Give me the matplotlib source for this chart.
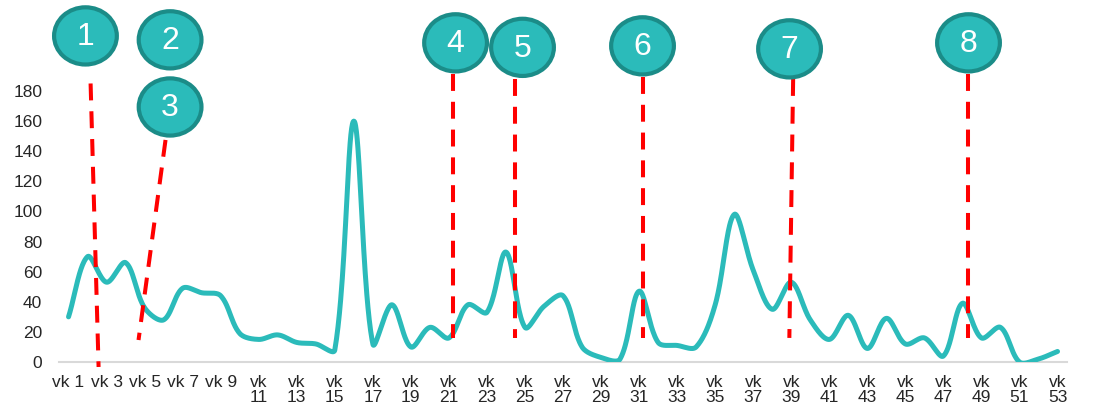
import numpy as np
import matplotlib
matplotlib.use("Agg")
import matplotlib.pyplot as plt
from matplotlib.patches import Ellipse

plt.rcParams["font.family"] = ["Liberation Sans", "DejaVu Sans"]

# weekly counts, vk 1 .. vk 53
weeks = [f"vk {i}" for i in range(1, 54)]
counts = [30, 70, 53, 66, 36, 28, 49, 46, 44, 19,
          15, 18, 13, 12, 8, 160, 12, 38, 10, 23,
          16, 38, 33, 73, 23, 37, 44, 10, 3, 2,
          47, 13, 11, 10, 38, 98, 61, 35, 53, 28,
          15, 31, 9, 29, 12, 16, 4, 39, 16, 23,
          0, 2, 7]

# numbered events: label, bubble centre (week, y), dashed line top and bottom
events = [
    ("1", (1.89, 216.6), (2.16, 185), (2.58, -3.3)),
    ("2", (6.34, 214.0), None, None),
    ("3", (6.34, 169.4), (6.10, 147.5), (4.68, 14.6)),
    ("4", (21.35, 212.0), (21.24, 191), (21.24, 16)),
    ("5", (24.87, 209.0), (24.45, 188), (24.45, 16)),
    ("6", (31.18, 210.0), (31.20, 189.6), (31.20, 16)),
    ("7", (38.91, 208.0), (39.10, 188), (38.90, 16)),
    ("8", (48.32, 212.0), (48.30, 191), (48.30, 16)),
]

TEAL = "#2BBBBA"
TEAL_DARK = "#1B8C88"


def smooth(xs, ys, sx=19.0, sy=1.5, n=40):
    # bezier through every point; tangent handles scaled by neighbouring
    # chord lengths (in screen-like units) so steep spikes don't overshoot
    p = np.column_stack([np.asarray(xs, float) * sx, np.asarray(ys, float) * sy])
    m = len(p)
    handles_out = np.zeros_like(p)
    handles_in = np.zeros_like(p)
    for i in range(m):
        a = p[i - 1] if i > 0 else p[i]
        b = p[i + 1] if i < m - 1 else p[i]
        la = np.linalg.norm(p[i] - a)
        lb = np.linalg.norm(b - p[i])
        tot = la + lb if la + lb > 0 else 1
        d = b - a
        handles_out[i] = p[i] + d * lb / tot / 3
        handles_in[i] = p[i] - d * la / tot / 3
    out = []
    t = np.linspace(0, 1, n, endpoint=False)[:, None]
    for i in range(m - 1):
        p1, p2 = p[i], p[i + 1]
        b1, b2 = handles_out[i], handles_in[i + 1]
        seg = (1 - t) ** 3 * p1 + 3 * (1 - t) ** 2 * t * b1 + 3 * (1 - t) * t ** 2 * b2 + t ** 3 * p2
        out.append(seg)
    out.append(p[-1:])
    out = np.vstack(out)
    return out[:, 0] / sx, out[:, 1] / sy


fig = plt.figure(figsize=(11.2, 4.15), dpi=100)
ax = fig.add_axes([0.0527, 0.1277, 0.9, 0.653])

x = np.arange(1, len(counts) + 1)
lx, ly = smooth(x, counts)
ax.plot(lx, ly, color=TEAL, lw=3.6, solid_capstyle="round", zorder=3)

for label, centre, top, bottom in events:
    if top is not None:
        ax.plot([top[0], bottom[0]], [top[1], bottom[1]], color="#FF0000", lw=2.9,
                dashes=(4.2, 2.7), dash_capstyle="butt", clip_on=False, zorder=4)
    ax.add_patch(Ellipse(centre, width=3.3, height=38, facecolor=TEAL,
                         edgecolor=TEAL_DARK, lw=3, clip_on=False, zorder=5))
    ax.text(centre[0], centre[1] - 1, label, color="white", fontsize=23,
            ha="center", va="center", zorder=6, clip_on=False)

ax.set_xlim(0.5, 53.5)
ax.set_ylim(0, 180)
ax.set_yticks(range(0, 181, 20))
ax.set_xticks(x[::2])
ax.set_xticklabels([w if len(w) < 5 else w.replace(" ", "\n") for w in weeks[::2]],
                   linespacing=1.05)

for s in ["top", "right", "left"]:
    ax.spines[s].set_visible(False)
ax.spines["bottom"].set_color("#D9D9D9")
ax.spines["bottom"].set_linewidth(1.5)
ax.tick_params(axis="both", length=0, labelsize=12.5, labelcolor="#262626")
ax.tick_params(axis="y", pad=12)
ax.tick_params(axis="x", pad=9)

fig.savefig("out.png", dpi=100)
